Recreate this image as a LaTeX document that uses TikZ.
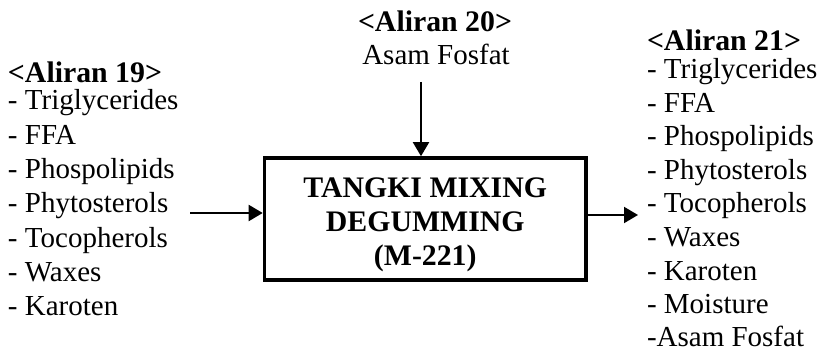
\documentclass[tikz,border=0pt]{standalone}
\usepackage{fontspec}
\setmainfont{Liberation Serif}
\usetikzlibrary{arrows.meta}

\tikzset{
  txt/.style={inner sep=0pt, outer sep=0pt, font=\fontsize{29}{34}\selectfont},
  head/.style={txt, font=\fontsize{29.8}{34}\selectfont\bfseries},
  flow/.style={line width=2pt, -{Triangle[length=14pt,width=16pt]}},
  unit/.style={draw, line width=3.6pt, minimum width=321.5pt, minimum height=122pt, inner sep=0pt}
}

\begin{document}
\begin{tikzpicture}[x=1pt,y=-1pt]
  \useasboundingbox (0,0) rectangle (823,352);

  % process unit
  \node[unit] (box) at (425.25,219) {};
  \node[head, align=center, anchor=north] (boxlbl) at (425.25,178)
    {TANGKI MIXING\\DEGUMMING\\(M-221)};

  % stream 19 (feed)
  \node[head, anchor=base west] (h19) at (8,83) {<Aliran 19>};
  \foreach \t [count=\i from 0] in {Triglycerides,FFA,Phospolipids,Phytosterols,Tocopherols,Waxes,Karoten}
    \node[txt, anchor=base west] (a\i) at (8,110+34.3*\i) {- \t};

  % stream 20 (acid)
  \node[head, anchor=base] (h20) at (435,32) {<Aliran 20>};
  \node[txt, anchor=base] (b0) at (436,65) {Asam Fosfat};

  % stream 21 (product)
  \node[head, anchor=base west] (h21) at (647,51) {<Aliran 21>};
  \foreach \t [count=\i from 0] in {Triglycerides,FFA,Phospolipids,Phytosterols,Tocopherols,Waxes,Karoten,Moisture}
    \node[txt, anchor=base west] (c\i) at (647,78.5+33.6*\i) {- \t};
  \node[txt, anchor=base west] (c8) at (647,347) {-Asam Fosfat};

  % connectors
  \coordinate (in19) at (190,213);
  \coordinate (in20) at (421,82);
  \coordinate (out21) at (638,215);
  \draw[flow] (in19) -- (in19 -| box.west);
  \draw[flow] (in20) -- (in20 |- box.north);
  \draw[flow] (out21 -| box.east) -- (out21);
\end{tikzpicture}
\end{document}
